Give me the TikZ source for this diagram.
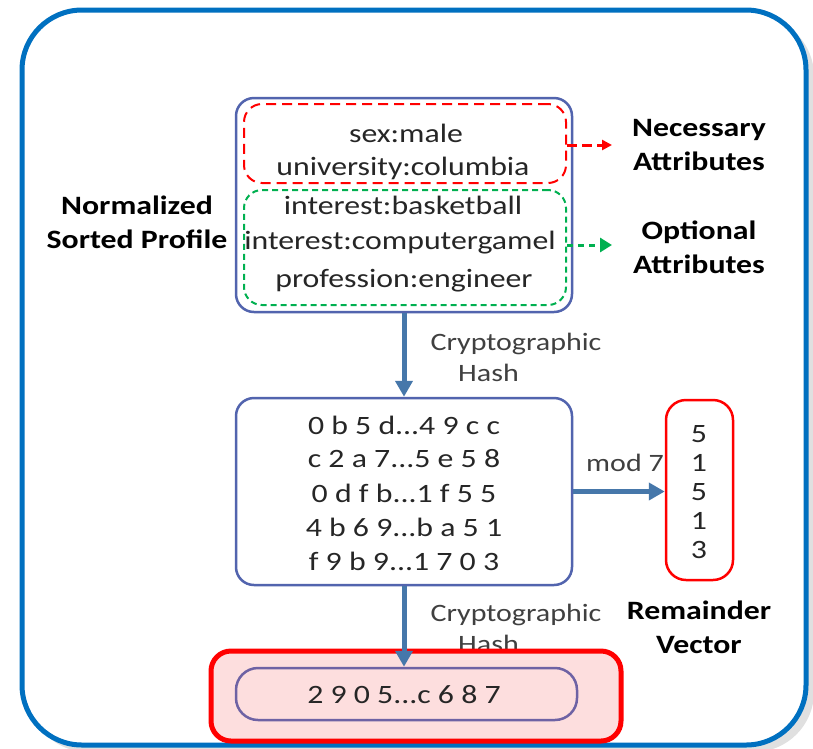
\documentclass[tikz,border=0pt]{standalone}
\usepackage{fontspec}
\setmainfont{Carlito}[FakeStretch=1.2]
\usetikzlibrary{arrows.meta}
\definecolor{outerblue}{HTML}{0070C0}
\definecolor{boxblue}{HTML}{5264AE}
\definecolor{arrowblue}{HTML}{4677AA}
\definecolor{dgreen}{HTML}{00B050}
\definecolor{pinkfill}{HTML}{FDDEDE}
\definecolor{innerpurple}{HTML}{6E62A4}
\definecolor{labelgray}{HTML}{404040}
\tikzset{
  box/.style={draw=boxblue,line width=2.5pt,rounded corners=18pt,minimum width=#1},
  txt/.style={font=\fontsize{26.5}{30}\selectfont,text=black!85,inner sep=0pt},
  hex/.style={font=\fontsize{26.5}{28}\selectfont,text=black!85,inner sep=0pt},
  bold/.style={font=\fontsize{26.5}{34}\selectfont\bfseries,align=center,inner sep=0pt},
  lbl/.style={font=\fontsize{25}{31}\selectfont,text=labelgray,align=center,inner sep=0pt},
  flow/.style={draw=arrowblue,line width=5pt,-{Triangle[length=16pt,width=17pt]}},
}
\begin{document}
\begin{tikzpicture}[x=1pt,y=-1pt]
\useasboundingbox (0,0) rectangle (813,748);
% outer frame with shadow
\fill[black!12,rounded corners=60pt] (28,16) rectangle (814,752);
\draw[outerblue,line width=5pt,fill=white,rounded corners=60pt] (22,10) rectangle (806,745);

% profile box
\node[box=336pt,minimum height=214pt] (prof) at (404,205) {};
\node[draw=red,dashed,dash pattern=on 10pt off 6pt,line width=2pt,rounded corners=18pt,minimum width=322pt,minimum height=79pt] (nec) at (405,143.5) {};
\node[draw=dgreen,dashed,dash pattern=on 6pt off 4pt,line width=2pt,rounded corners=18pt,minimum width=322pt,minimum height=115pt] (opt) at (405,247.5) {};
\node[txt] (t1) at (406,133) {sex:male};
\node[txt] (t2) at (403,168) {university:columbia};
\node[txt] (t3) at (403,205) {interest:basketball};
\node[txt] (t4) at (400,243) {interest:computergamel};
\node[txt] (t5) at (404,281) {profession:engineer};

\node[bold] (nsp) at (137,222) {Normalized\\Sorted Profile};
\node[bold] (na) at (699,145) {Necessary\\Attributes};
\node[bold] (oa) at (699,247) {Optional\\Attributes};

\coordinate (necend) at (612,145);
\coordinate (optend) at (612,245);
\draw[red,line width=3pt,dash pattern=on 10pt off 5pt,-{Triangle[length=10pt,width=10pt]}] (nec.east |- necend) -- (necend);
\draw[dgreen,line width=3pt,dash pattern=on 6pt off 5pt,-{Triangle[length=12pt,width=14pt]}] (opt.east |- optend) -- (optend);

% hash box
\node[box=336pt,minimum height=187pt] (hash) at (404,491.5) {};
\node[hex] (h1) at (404,425) {0 b 5 d...4 9 c c};
\node[hex] (h2) at (404,459) {c 2 a 7...5 e 5 8};
\node[hex] (h3) at (404,493) {0 d f b...1 f 5 5};
\node[hex] (h4) at (404,527) {4 b 6 9...b a 5 1};
\node[hex] (h5) at (404,561) {f 9 b 9...1 7 0 3};

\draw[flow] (prof.south) -- (hash.north);
\node[lbl] (ch1) at (516,357) {Cryptographic\\Hash\hspace*{55pt}};

% remainder vector
\node[draw=red,line width=2.5pt,rounded corners=20pt,minimum width=67pt,minimum height=180pt] (rem) at (699.5,490) {};
\node[hex] (r1) at (699,434) {5};
\node[hex] (r2) at (699,463) {1};
\node[hex] (r3) at (699,492) {5};
\node[hex] (r4) at (699,521) {1};
\node[hex] (r5) at (699,550) {3};
\draw[flow] (hash.east) -- (rem.west |- hash.east);
\node[lbl] (mod) at (625,463) {mod 7};
\node[bold] (rv) at (699,627) {Remainder\\Vector};

% second hash label (partly hidden)
\node[lbl] (ch2) at (516,628) {Cryptographic\\Hash\hspace*{55pt}};

% final box
\node[draw=red,fill=pinkfill,line width=5pt,rounded corners=20pt,minimum width=410pt,minimum height=90pt] (fin) at (416,696) {};
\node[draw=innerpurple,line width=2.5pt,rounded corners=22pt,minimum width=341pt,minimum height=52pt] (inner) at (406.5,694) {};
\node[hex] (fv) at (404,695) {2 9 0 5...c 6 8 7};
\draw[flow] (hash.south) -- (hash.south |- inner.north);
\end{tikzpicture}
\end{document}
